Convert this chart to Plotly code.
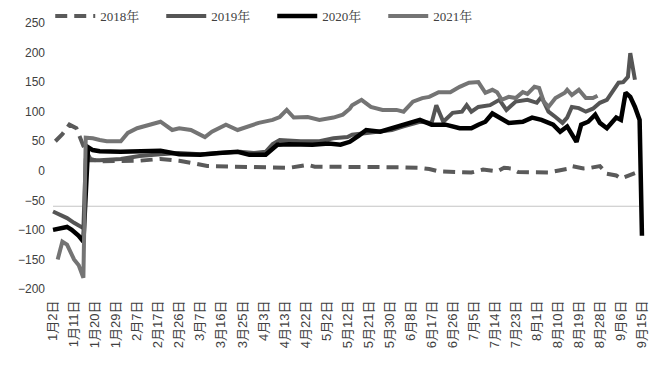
import plotly.graph_objects as go

tick_labels = ["1月2日", "1月11日", "1月20日", "1月29日", "2月7日", "2月17日", "2月26日",
               "3月7日", "3月16日", "3月25日", "4月3日", "4月13日", "4月22日", "5月2日",
               "5月12日", "5月21日", "5月30日", "6月8日", "6月17日", "6月26日", "7月5日",
               "7月14日", "7月23日", "8月1日", "8月10日", "8月19日", "8月28日", "9月6日", "9月15日"]
tick_pos = [i * 9 for i in range(len(tick_labels))]

x2018 = [1, 4, 7, 10, 13, 16, 20, 29, 37, 46, 54, 61, 66, 76, 88, 101, 106, 109, 112, 123,
         135, 148, 157, 161, 165, 172, 179, 184, 190, 193, 196, 199, 206, 212, 217, 220, 222,
         227, 230, 234, 237, 241, 243, 246, 249]
y2018 = [50, 62, 78, 72, 42, 20, 16, 16, 17, 20, 17, 12, 8, 7, 6, 5, 8, 10, 7, 7,
         6, 6, 5, 3, -1, -2, -3, 2, -1, 5, 4, -2, -3, -3, 1, 3, 8,
         4, 5, 8, -5, -8, -13, -8, -4]

x2019 = [0, 3, 6, 9, 11, 12, 13, 14, 20, 29, 37, 46, 54, 63, 71, 80, 86, 91, 94, 97, 106,
         114, 120, 126, 128, 137, 145, 150, 157, 162, 164, 167, 171, 175, 177, 179, 182, 187,
         191, 194, 198, 203, 207, 209, 212, 215, 218, 220, 222, 225, 228, 231, 234, 237, 239,
         242, 244, 246, 247, 249]
y2019 = [-69, -75, -80, -88, -93, -96, -97, 18, 18, 20, 25, 28, 30, 28, 30, 32, 30, 32, 45, 52, 50,
         50, 55, 57, 61, 66, 69, 75, 83, 81, 111, 83, 98, 100, 111, 100, 108, 111,
         120, 103, 117, 120, 115, 125, 100, 91, 81, 90, 108, 106, 100, 105, 115, 120, 132,
         149, 150, 159, 199, 154]

x2020 = [0, 3, 6, 8, 11, 13, 15, 17, 20, 29, 37, 46, 54, 63, 71, 79, 84, 91, 96, 101, 111,
         118, 123, 127, 131, 134, 140, 145, 151, 157, 162, 168, 174, 179, 182, 185, 188, 191,
         195, 201, 205, 209, 214, 217, 220, 224, 226, 229, 232, 234, 237, 241, 243, 245, 247,
         249, 251, 252]
y2020 = [-100, -98, -95, -100, -110, -120, 40, 35, 33, 32, 33, 34, 28, 27, 30, 32, 27, 27, 44, 45, 44,
         46, 44, 49, 60, 69, 66, 72, 78, 86, 78, 78, 72, 72, 78, 83, 97, 91,
         81, 83, 90, 86, 78, 66, 75, 49, 78, 83, 95, 81, 72, 90, 86, 132, 125,
         108, 86, -110]

x2021 = [2, 4, 6, 9, 11, 13, 14, 17, 20, 23, 29, 32, 36, 41, 46, 51, 54, 59, 65, 68, 74,
         79, 83, 88, 94, 97, 100, 103, 109, 114, 120, 124, 127, 128, 132, 136, 141, 147, 150,
         154, 158, 161, 165, 170, 174, 178, 182, 185, 188, 190, 192, 195, 198, 201, 203, 206,
         208, 210, 212, 215, 219, 220, 222, 225, 228, 231, 233]
y2021 = [-150, -120, -125, -150, -160, -181, 56, 55, 52, 50, 50, 64, 72, 78, 83, 69, 72, 69, 57, 66, 78,
         69, 75, 81, 86, 91, 103, 90, 91, 86, 90, 95, 105, 111, 120, 108, 103, 103, 100,
         117, 123, 125, 133, 133, 142, 149, 150, 132, 137, 133, 120, 125, 123, 133, 130, 142,
         140, 117, 108, 123, 132, 137, 128, 137, 123, 123, 127]

series = [
    ("2018年", x2018, y2018, "#5a5a5a", "12px,7px", 4),
    ("2019年", x2019, y2019, "#555555", "solid", 4),
    ("2020年", x2020, y2020, "#000000", "solid", 4.5),
    ("2021年", x2021, y2021, "#747474", "solid", 4),
]

fig = go.Figure()
for name, xs, ys, color, dash, w in series:
    fig.add_trace(go.Scatter(x=xs, y=ys, mode="lines", name=name,
                             line=dict(color=color, width=w, dash=dash)))

fig.add_shape(type="line", xref="x", yref="y", x0=0, x1=251, y0=-60, y1=-60,
              line=dict(color="#c4c4c4", width=1), layer="below")

y_font = dict(family="Liberation Sans, Noto Sans CJK SC, sans-serif", size=12, color="#404040")
x_font = dict(family="Liberation Sans, Noto Sans CJK SC, sans-serif", size=13, color="#404040")

# the page body has an 8px default margin, so the figure is sized to fit the window
fig.update_layout(
    width=652, height=367,
    margin=dict(l=38, r=8, t=15, b=86, autoexpand=False),
    paper_bgcolor="white", plot_bgcolor="white",
    showlegend=True,
    legend=dict(orientation="h", x=0.007, xanchor="left", y=1.026, yanchor="middle",
                font=dict(family="Liberation Serif, Noto Serif CJK SC, Noto Sans CJK SC, serif",
                          size=13, color="#404040"),
                entrywidth=56, itemwidth=40, bgcolor="rgba(0,0,0,0)"),
    xaxis=dict(range=[-3, 256.3], tickvals=tick_pos, ticktext=tick_labels, tickangle=-90,
               showgrid=False, zeroline=False, showline=False, ticks="",
               tickfont=x_font, ticklabelstandoff=8, automargin=False),
    yaxis=dict(range=[-200, 250], dtick=50, tick0=0, showgrid=False, zeroline=False,
               showline=False, ticks="", tickfont=y_font, automargin=False),
)

fig.write_html("out.html")
